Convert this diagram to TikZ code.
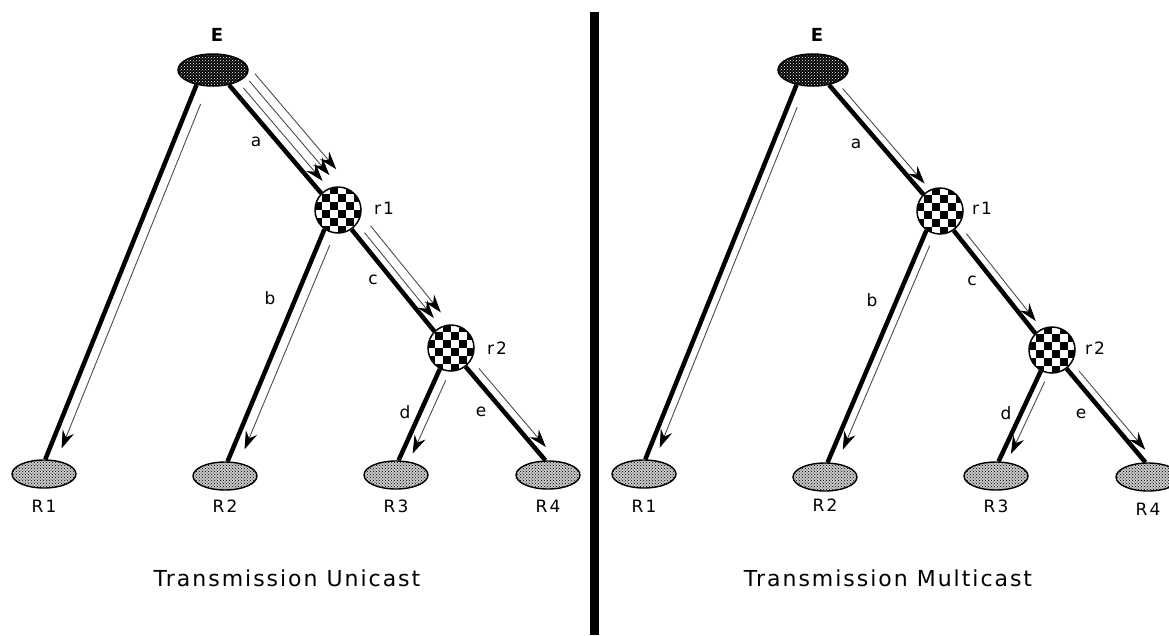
\documentclass[tikz,border=0pt]{standalone}
\usepackage{fontspec}
\setmainfont{DejaVu Sans}
\newfontfamily\ttlfont[LetterSpace=9]{DejaVu Sans}
\newfontfamily\labfont[LetterSpace=12]{DejaVu Sans}
\usetikzlibrary{shapes.geometric,patterns,arrows.meta,calc}
\tikzset{
  src/.style={ellipse, draw, line width=1.5pt, minimum width=70pt, minimum height=32pt, inner sep=0pt,
    preaction={fill=black}, pattern=crosshatch dots, pattern color=white},
  leaf/.style={ellipse, draw, line width=1.4pt, minimum width=64pt, minimum height=28pt, inner sep=0pt,
    preaction={fill=black!22}, pattern=crosshatch dots, pattern color=black},
  router/.style={circle, draw, line width=1.5pt, minimum size=46pt, inner sep=0pt,
    path picture={
      \foreach \i in {-3,...,2}{\foreach \j in {-3,...,2}{
        \pgfmathtruncatemacro\k{\i+\j+10}
        \ifodd\k
          \fill[black] ($(path picture bounding box.center)+(\i*8pt,\j*8pt)$) rectangle +(8pt,8pt);
        \fi
      }}
    }},
  lab/.style={font=\labfont\fontsize{17}{20}\selectfont, inner sep=0pt},
  srclab/.style={font=\fontsize{18}{21}\selectfont\bfseries, inner sep=0pt},
  ttl/.style={font=\ttlfont\fontsize{22}{26}\selectfont, inner sep=0pt},
  thick line/.style={line width=4.5pt},
  thinarr/.style={line width=0.9pt, draw=black!70, -{Stealth[length=18pt,width=12pt,inset=6pt,color=black]}},
}
\newcommand\thinpar[5]{\draw[thinarr] ($(#1)!#3!(#2)!#5!90:(#2)$) -- ($(#1)!#4!(#2)!#5!90:(#2)$);}
\begin{document}
\begin{tikzpicture}[x=1pt,y=-1pt]
\useasboundingbox (0,0) rectangle (1169,635);
% ---------- left panel: unicast ----------
\node[src] (LE) at (213,70) {};
\node[srclab] (LEl) at (217,35) {E};
\node[router] (Lr1) at (338,210) {};
\node[lab] (Lr1l) at (384,208) {r1};
\node[router] (Lr2) at (451,348) {};
\node[lab] (Lr2l) at (497,348) {r2};
\node[leaf] (LR1) at (44,474) {};
\node[leaf] (LR2) at (225,476) {};
\node[leaf] (LR3) at (396,475) {};
\node[leaf] (LR4) at (548,475) {};
\node[lab] (LR1l) at (44,506) {R1};
\node[lab] (LR2l) at (225,506) {R2};
\node[lab] (LR3l) at (396,506) {R3};
\node[lab] (LR4l) at (548,506) {R4};
\node[lab] (La) at (256,142) {a};
\node[lab] (Lb) at (270,298) {b};
\node[lab] (Lc) at (373,280) {c};
\node[lab] (Ld) at (405,412) {d};
\node[lab] (Le) at (481,412) {e};
\node[ttl] (Lt) at (287,578) {Transmission Unicast};

\draw[thick line] (LE.-138) -- (LR1.85);
\draw[thick line] (LE.-43) -- (Lr1.135);
\draw[thick line] (Lr1.-125) -- (LR2.80);
\draw[thick line] (Lr1.-55) -- (Lr2.135);
\draw[thick line] (Lr2.-118) -- (LR3.80);
\draw[thick line] (Lr2.-52) -- (LR4.100);

\thinpar{LE.-138}{LR1.85}{0.04}{0.96}{11pt}
\thinpar{LE.-43}{Lr1.135}{0.08}{0.94}{9pt}
\thinpar{LE.-43}{Lr1.135}{0.07}{0.94}{18pt}
\thinpar{LE.-43}{Lr1.135}{0.06}{0.94}{27pt}
\thinpar{Lr1.-125}{LR2.80}{0.05}{0.93}{11pt}
\thinpar{Lr1.-55}{Lr2.135}{0.08}{0.92}{8pt}
\thinpar{Lr1.-55}{Lr2.135}{0.07}{0.92}{17pt}
\thinpar{Lr2.-118}{LR3.80}{0.08}{0.88}{10pt}
\thinpar{Lr2.-52}{LR4.100}{0.08}{0.92}{9pt}

% ---------- separator ----------
\fill[black] (590,12) rectangle (599,635);

% ---------- right panel: multicast ----------
\node[src] (RE) at (813,70) {};
\node[srclab] (REl) at (817,35) {E};
\node[router] (Rr1) at (940,211) {};
\node[lab] (Rr1l) at (982,208) {r1};
\node[router] (Rr2) at (1052,350) {};
\node[lab] (Rr2l) at (1095,348) {r2};
\node[leaf] (RR1) at (644,474) {};
\node[leaf] (RR2) at (825,477) {};
\node[leaf] (RR3) at (996,476) {};
\node[leaf] (RR4) at (1148,477) {};
\node[lab] (RR1l) at (644,506) {R1};
\node[lab] (RR2l) at (825,505) {R2};
\node[lab] (RR3l) at (996,506) {R3};
\node[lab] (RR4l) at (1148,509) {R4};
\node[lab] (Ra) at (856,144) {a};
\node[lab] (Rb) at (872,300) {b};
\node[lab] (Rc) at (972,281) {c};
\node[lab] (Rd) at (1006,413) {d};
\node[lab] (Re) at (1081,414) {e};
\node[ttl] (Rt) at (888,578) {Transmission Multicast};

\draw[thick line] (RE.-138) -- (RR1.85);
\draw[thick line] (RE.-43) -- (Rr1.135);
\draw[thick line] (Rr1.-125) -- (RR2.80);
\draw[thick line] (Rr1.-55) -- (Rr2.135);
\draw[thick line] (Rr2.-118) -- (RR3.80);
\draw[thick line] (Rr2.-52) -- (RR4.100);

\thinpar{RE.-138}{RR1.85}{0.05}{0.96}{9pt}
\thinpar{RE.-43}{Rr1.135}{0.08}{0.95}{8pt}
\thinpar{Rr1.-125}{RR2.80}{0.05}{0.93}{9pt}
\thinpar{Rr1.-55}{Rr2.135}{0.08}{0.93}{8pt}
\thinpar{Rr2.-118}{RR3.80}{0.08}{0.88}{8pt}
\thinpar{Rr2.-52}{RR4.100}{0.08}{0.92}{8pt}
\end{tikzpicture}
\end{document}
